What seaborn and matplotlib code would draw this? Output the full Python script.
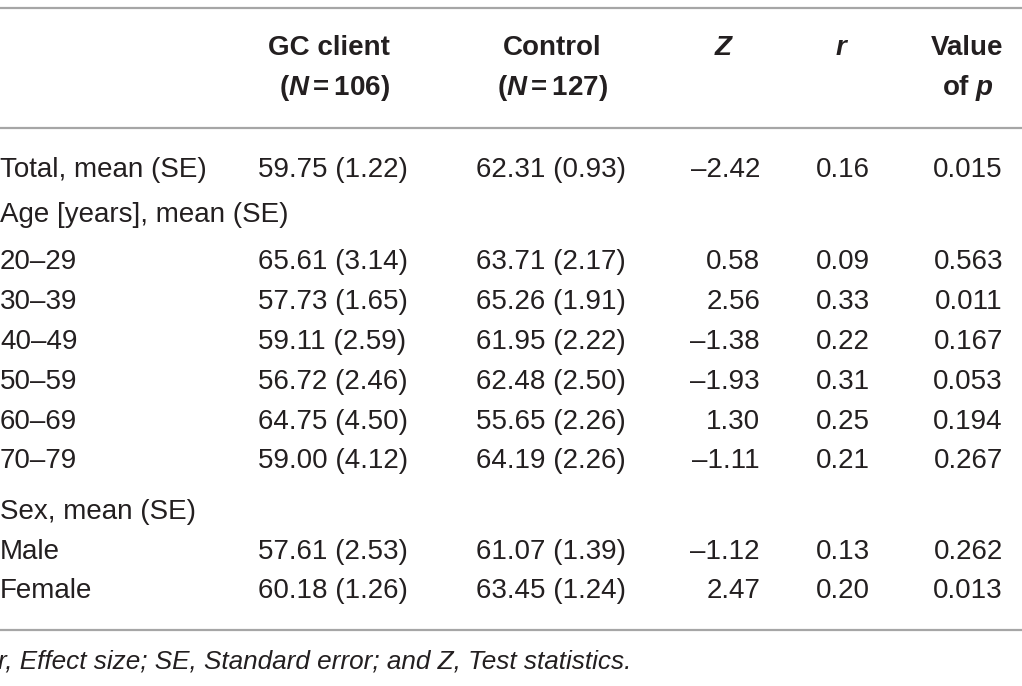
import matplotlib
matplotlib.use("Agg")
import matplotlib.pyplot as plt
import seaborn as sns

sns.set_theme(style="white")
plt.rcParams["font.family"] = ["Liberation Sans", "DejaVu Sans"]
plt.rcParams["mathtext.fontset"] = "custom"
plt.rcParams["mathtext.rm"] = "Liberation Sans"
plt.rcParams["mathtext.it"] = "Liberation Sans:italic"
plt.rcParams["mathtext.bf"] = "Liberation Sans:bold"
plt.rcParams["mathtext.bfit"] = "Liberation Sans:italic:bold"

# Data
age_groups = ["20–29", "30–39", "40–49", "50–59", "60–69", "70–79"]
sex_groups = ["Male", "Female"]
row_labels = ["Total, mean (SE)"] + age_groups + sex_groups
gc_mean = [59.75, 65.61, 57.73, 59.11, 56.72, 64.75, 59.00, 57.61, 60.18]
gc_se = [1.22, 3.14, 1.65, 2.59, 2.46, 4.50, 4.12, 2.53, 1.26]
ctrl_mean = [62.31, 63.71, 65.26, 61.95, 62.48, 55.65, 64.19, 61.07, 63.45]
ctrl_se = [0.93, 2.17, 1.91, 2.22, 2.50, 2.26, 2.26, 1.39, 1.24]
z_stat = [-2.42, 0.58, 2.56, -1.38, -1.93, 1.30, -1.11, -1.12, 2.47]
effect_r = [0.16, 0.09, 0.33, 0.22, 0.31, 0.25, 0.21, 0.13, 0.20]
p_value = [0.015, 0.563, 0.011, 0.167, 0.053, 0.194, 0.267, 0.262, 0.013]
section_labels = ["Age [years], mean (SE)", "Sex, mean (SE)"]
footnote = "r, Effect size; SE, Standard error; and Z, Test statistics."

TXT = "#231f20"
LINE = "#a6a6a6"
FS = 20

fig = plt.figure(figsize=(10.22, 6.86), dpi=100)
ax = fig.add_axes([0, 0, 1, 1])
ax.set_xlim(0, 1022)
ax.set_ylim(686, 0)
ax.axis("off")


def fmt(v, nd):
    s = f"{v:.{nd}f}"
    return s.replace("-", "–")


# rules
for y in (8, 128, 630):
    ax.plot([0, 1022], [y, y], color=LINE, lw=1.6, solid_capstyle="butt")

# header
hdr = dict(color=TXT, fontsize=FS, va="center", ha="center")
ax.text(329, 48, "GC client", fontweight="bold", **hdr)
ax.text(334, 88, r"$\mathbf{(}\mathbfit{N}\mathbf{=106)}$", **hdr)
ax.text(552, 48, "Control", fontweight="bold", **hdr)
ax.text(552, 88, r"$\mathbf{(}\mathbfit{N}\mathbf{=127)}$", **hdr)
ax.text(724, 48, r"$\mathbfit{Z}$", **hdr)
ax.text(842, 48, r"$\mathbfit{r}$", **hdr)
ax.text(967, 48, "Value", fontweight="bold", **hdr)
ax.text(968, 88, r"$\mathbf{of}\ \mathbfit{p}$", **hdr)

# body
row_y = [170, 262, 302, 342, 382, 422, 461, 552, 591]
body = dict(color=TXT, fontsize=FS, va="center")
for i, y in enumerate(row_y):
    ax.text(0, y, row_labels[i], ha="left", **body)
    ax.text(258, y, f"{fmt(gc_mean[i], 2)} ({fmt(gc_se[i], 2)})", ha="left", **body)
    ax.text(476, y, f"{fmt(ctrl_mean[i], 2)} ({fmt(ctrl_se[i], 2)})", ha="left", **body)
    ax.text(760, y, fmt(z_stat[i], 2), ha="right", **body)
    ax.text(870, y, fmt(effect_r[i], 2), ha="right", **body)
    ax.text(1003, y, fmt(p_value[i], 3), ha="right", **body)

for lab, y in zip(section_labels, (215, 512)):
    ax.text(0, y, lab, ha="left", **body)

ax.text(-2, 662, footnote, ha="left", style="italic", color=TXT,
        fontsize=18.8, va="center")

fig.savefig("out.png", dpi=100)
